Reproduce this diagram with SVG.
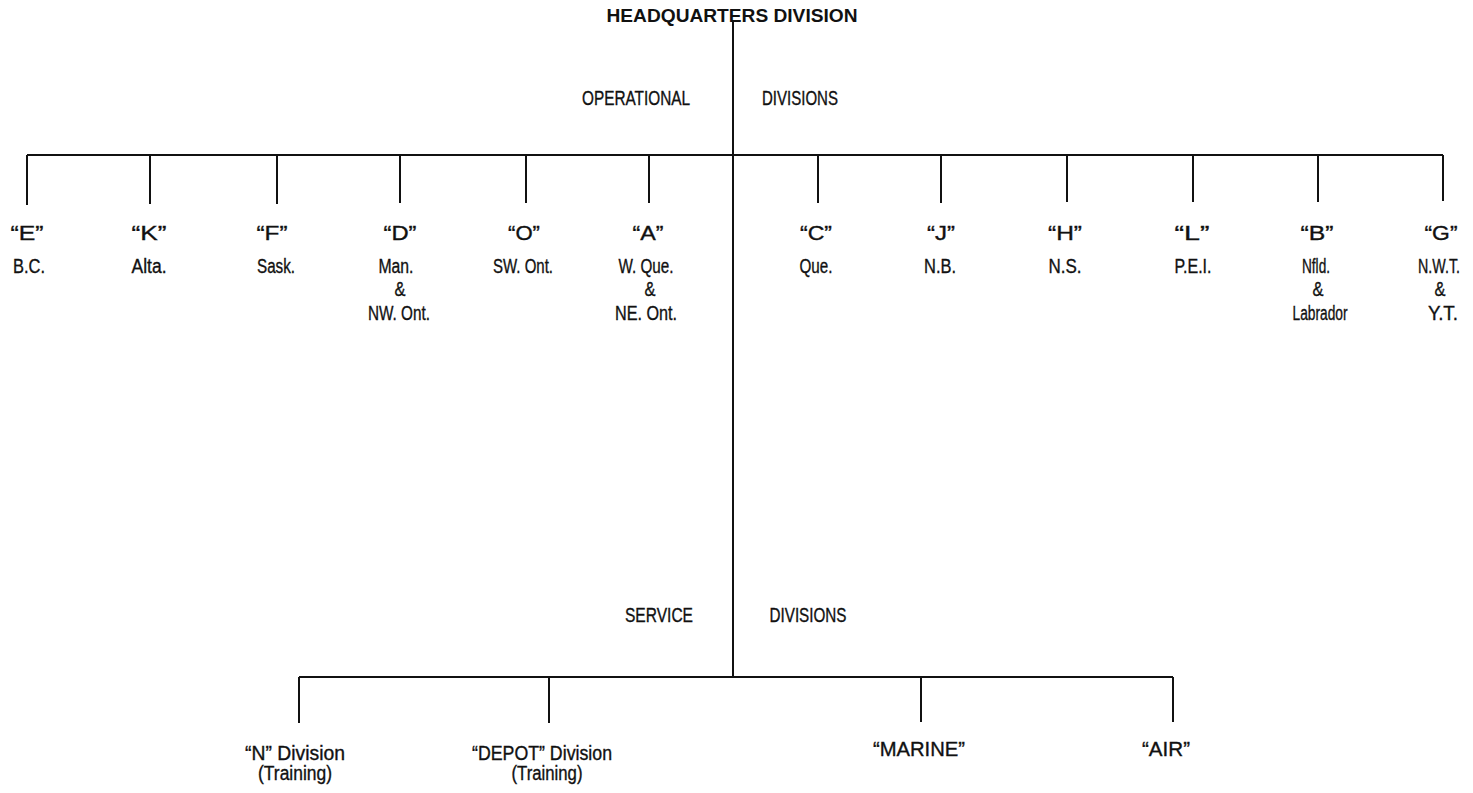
<svg xmlns="http://www.w3.org/2000/svg" width="1473" height="793" viewBox="0 0 1473 793">
<style>
text{font-family:"Liberation Sans",Arial,sans-serif;font-size:20px;fill:#111;stroke:#111;stroke-width:0.35;text-anchor:middle}
.hq{font-weight:bold;font-size:19px;stroke-width:0}
.c{stroke:#111;stroke-width:2;fill:none}
</style>
<rect width="1473" height="793" fill="#fff"/>
<g id="connectors" class="c">
<path d="M733 22V676"/>
<path d="M27 155H1443"/>
<path d="M27 155V205M150 155V204M277 155V204M400 155V203M526 155V203M649 155V203M818 155V203M941 155V203M1067 155V202M1193 155V202M1318 155V202M1443 155V201"/>
<path d="M299 677H1173"/>
<path d="M299 677V723M549 677V723M921 677V722M1173 677V722"/>
</g>
<g id="hq"><text class="hq" x="732" y="22" textLength="251" lengthAdjust="spacingAndGlyphs">HEADQUARTERS DIVISION</text></g>
<g id="operational-label"><text x="636" y="105" textLength="108" lengthAdjust="spacingAndGlyphs">OPERATIONAL</text><text x="800" y="105" textLength="76" lengthAdjust="spacingAndGlyphs">DIVISIONS</text></g>
<g id="service-label"><text x="659" y="622" textLength="68" lengthAdjust="spacingAndGlyphs">SERVICE</text><text x="808" y="622" textLength="77" lengthAdjust="spacingAndGlyphs">DIVISIONS</text></g>
<g id="div-E"><text x="27" y="240" textLength="33" lengthAdjust="spacingAndGlyphs">“E”</text><text x="29" y="273" textLength="32" lengthAdjust="spacingAndGlyphs">B.C.</text></g>
<g id="div-K"><text x="149" y="240" textLength="35" lengthAdjust="spacingAndGlyphs">“K”</text><text x="149" y="273" textLength="35" lengthAdjust="spacingAndGlyphs">Alta.</text></g>
<g id="div-F"><text x="272" y="240" textLength="31" lengthAdjust="spacingAndGlyphs">“F”</text><text x="276" y="273" textLength="38" lengthAdjust="spacingAndGlyphs">Sask.</text></g>
<g id="div-D"><text x="400" y="240" textLength="33" lengthAdjust="spacingAndGlyphs">“D”</text><text x="396" y="273" textLength="35" lengthAdjust="spacingAndGlyphs">Man.</text><text x="400" y="296" textLength="11" lengthAdjust="spacingAndGlyphs">&amp;</text><text x="399" y="320" textLength="62" lengthAdjust="spacingAndGlyphs">NW. Ont.</text></g>
<g id="div-O"><text x="524" y="240" textLength="32" lengthAdjust="spacingAndGlyphs">“O”</text><text x="523" y="273" textLength="60" lengthAdjust="spacingAndGlyphs">SW. Ont.</text></g>
<g id="div-A"><text x="648" y="240" textLength="31" lengthAdjust="spacingAndGlyphs">“A”</text><text x="646" y="273" textLength="55" lengthAdjust="spacingAndGlyphs">W. Que.</text><text x="650" y="296" textLength="11" lengthAdjust="spacingAndGlyphs">&amp;</text><text x="646" y="320" textLength="62" lengthAdjust="spacingAndGlyphs">NE. Ont.</text></g>
<g id="div-C"><text x="816" y="240" textLength="32" lengthAdjust="spacingAndGlyphs">“C”</text><text x="816" y="273" textLength="33" lengthAdjust="spacingAndGlyphs">Que.</text></g>
<g id="div-J"><text x="941" y="240" textLength="28" lengthAdjust="spacingAndGlyphs">“J”</text><text x="940" y="273" textLength="32" lengthAdjust="spacingAndGlyphs">N.B.</text></g>
<g id="div-H"><text x="1065" y="240" textLength="34" lengthAdjust="spacingAndGlyphs">“H”</text><text x="1065" y="273" textLength="33" lengthAdjust="spacingAndGlyphs">N.S.</text></g>
<g id="div-L"><text x="1192" y="240" textLength="35" lengthAdjust="spacingAndGlyphs">“L”</text><text x="1193" y="273" textLength="37" lengthAdjust="spacingAndGlyphs">P.E.I.</text></g>
<g id="div-B"><text x="1317" y="240" textLength="33" lengthAdjust="spacingAndGlyphs">“B”</text><text x="1316" y="273" textLength="28" lengthAdjust="spacingAndGlyphs">Nfld.</text><text x="1318" y="296" textLength="11" lengthAdjust="spacingAndGlyphs">&amp;</text><text x="1320" y="320" textLength="55" lengthAdjust="spacingAndGlyphs">Labrador</text></g>
<g id="div-G"><text x="1441" y="240" textLength="33" lengthAdjust="spacingAndGlyphs">“G”</text><text x="1439" y="273" textLength="42" lengthAdjust="spacingAndGlyphs">N.W.T.</text><text x="1440" y="296" textLength="11" lengthAdjust="spacingAndGlyphs">&amp;</text><text x="1443" y="320" textLength="30" lengthAdjust="spacingAndGlyphs">Y.T.</text></g>
<g id="div-N"><text x="295" y="760" textLength="100" lengthAdjust="spacingAndGlyphs">“N” Division</text><text x="295" y="780" textLength="74" lengthAdjust="spacingAndGlyphs">(Training)</text></g>
<g id="div-DEPOT"><text x="542" y="760" textLength="140" lengthAdjust="spacingAndGlyphs">“DEPOT” Division</text><text x="547" y="780" textLength="71" lengthAdjust="spacingAndGlyphs">(Training)</text></g>
<g id="div-MARINE"><text x="919" y="756" textLength="92" lengthAdjust="spacingAndGlyphs">“MARINE”</text></g>
<g id="div-AIR"><text x="1166" y="756" textLength="48" lengthAdjust="spacingAndGlyphs">“AIR”</text></g>
</svg>
